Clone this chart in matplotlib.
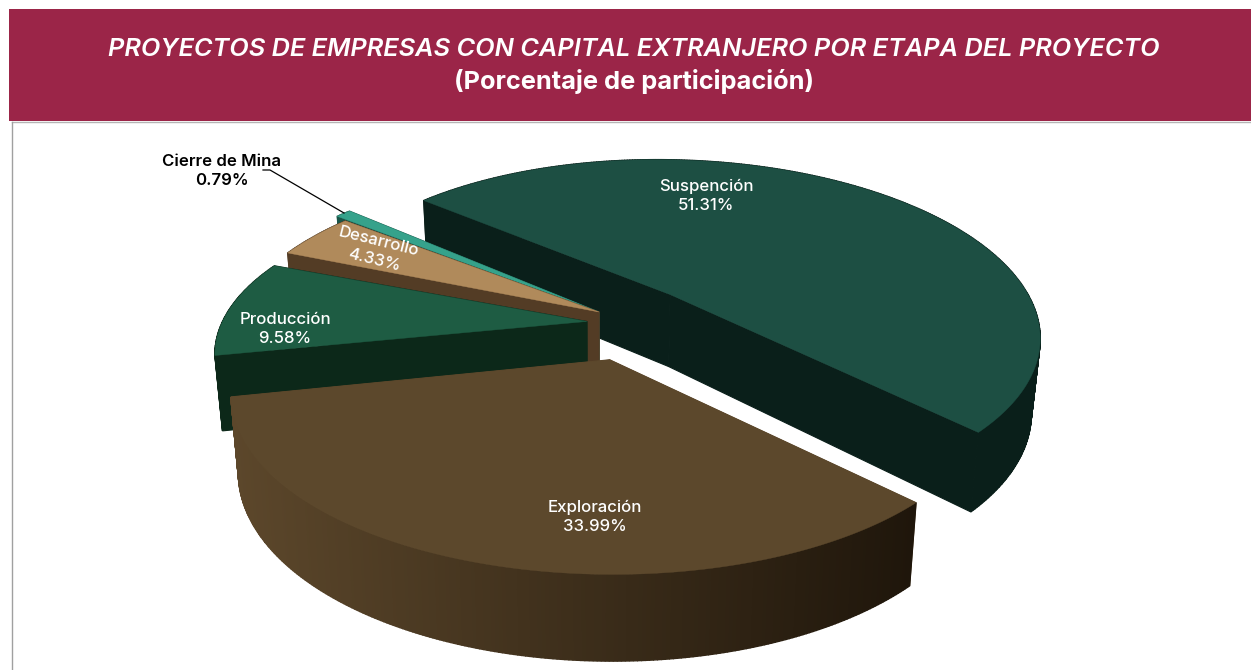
import numpy as np
import matplotlib
matplotlib.use('Agg')
import matplotlib.pyplot as plt
from matplotlib.colors import to_rgb

# clockwise from the back left
labels = ['Suspención', 'Exploración', 'Producción', 'Desarrollo', 'Cierre de Mina']
values = [51.31, 33.99, 9.58, 4.33, 0.79]

top_colors = ['#1d4f43', '#5c482c', '#1e5c43', '#b08a5b', '#36a28b']
wall_left = ['#0a1f1a', '#5c472b', '#0c2819', '#533c25', '#1a5548']
wall_right = ['#0a1f1a', '#1f160b', '#0c2819', '#533c25', '#1a5548']

# wedge apex offset, radius and front/back stretch on the pie plane
offsets = [(0.187, -0.105), (0.03, 0.265), (-0.025, 0.055), (0.005, 0.0), (0.005, 0.0)]
radii = [0.915, 0.875, 0.90, 0.91, 0.945]
stretch = [1.10, 1.02, 1.0, 1.08, 1.1]

start_angle = -139.1
CX, CY, RX, RY, K = 597, 312, 400, 170, 0.216
DEPTH, DEPTH_POW, LOWER_SCALE = 73, 0.6, 0.98


def project(u, v, lower=False):
    s = 1 / (1 - K * v)
    x = RX * u * s
    y = CY + RY * v * s
    if lower:
        x = x * LOWER_SCALE
        y = y + DEPTH * s ** DEPTH_POW
    return CX + x, y


def draw_wedge(ax, i, a0, a1):
    ox, oy = offsets[i]
    r = radii[i]
    th = np.radians(np.linspace(a0, a1, max(int(a1 - a0) * 2, 6)))
    u = ox + r * np.cos(th)
    v = oy + r * stretch[i] * np.sin(th)
    c0 = np.array(to_rgb(wall_left[i]))
    c1 = np.array(to_rgb(wall_right[i]))

    # cut faces
    for j in [0, -1]:
        xa, ya = project(np.array([ox, u[j]]), np.array([oy, v[j]]))
        xb, yb = project(np.array([ox, u[j]]), np.array([oy, v[j]]), lower=True)
        ax.fill(np.r_[xa, xb[::-1]], np.r_[ya, yb[::-1]], color=wall_left[i], lw=0.8)

    # outer wall in strips, so the shade can change along it
    xt, yt = project(u, v)
    xl, yl = project(u, v, lower=True)
    span = max(xt.max() - xt.min(), 1)
    for k in range(len(th) - 1):
        t = (xt[k] - xt.min()) / span
        col = c1 + (c0 - c1) * (1 - t)
        ax.fill([xt[k], xt[k + 1], xl[k + 1], xl[k]], [yt[k], yt[k + 1], yl[k + 1], yl[k]], color=tuple(col), lw=1.0)

    xp, yp = project(np.r_[ox, u], np.r_[oy, v])
    ax.fill(xp, yp, color=top_colors[i], lw=0.3)


plt.rcParams['font.family'] = ['Inter', 'DejaVu Sans']
fig = plt.figure(figsize=(12.51, 6.70), dpi=100)
ax = fig.add_axes([0, 0, 1, 1])
ax.set_xlim(0, 1251)
ax.set_ylim(670, 0)
ax.axis('off')

# banner
ax.fill([9, 1251, 1251, 9], [9, 9, 121, 121], color='#9b2548', lw=0)
ax.plot([12, 1251], [121.5, 121.5], color='#b5b5b5', lw=1)
ax.plot([12, 12], [122, 670], color='#a0a0a0', lw=1)
ax.text(634, 50, 'PROYECTOS DE EMPRESAS CON CAPITAL EXTRANJERO POR ETAPA DEL PROYECTO', color='white', fontsize=18.25,
        fontstyle='italic', fontweight='semibold', ha='center', va='center')
ax.text(634, 81, '(Porcentaje de participación)', color='white', fontsize=18.3, fontweight='bold', ha='center', va='center')

angles = np.cumsum([0] + values) / 100 * 360 + start_angle
for i in [0, 4, 3, 2, 1]:
    draw_wedge(ax, i, angles[i], angles[i + 1])

# labels
kw = dict(fontsize=12.1, fontweight='medium', ha='center', va='center', linespacing=1.3)
ax.text(706, 196, labels[0] + '\n' + '%.2f%%' % values[0], color='white', **kw)
ax.text(595, 517, labels[1] + '\n' + '%.2f%%' % values[1], color='white', **kw)
ax.text(285, 329, labels[2] + '\n' + '%.2f%%' % values[2], color='white', **kw)
ax.text(376, 251, labels[3] + '\n' + '%.2f%%' % values[3], color='white', rotation=-14, rotation_mode='anchor', **kw)
ax.text(222, 171, labels[4] + '\n' + '%.2f%%' % values[4], color='black', fontsize=12.1, fontweight='semibold',
        ha='center', va='center', linespacing=1.3)
ax.plot([263, 270, 344], [170, 170, 213], color='black', lw=0.9)

plt.savefig('out.png', dpi=100)
